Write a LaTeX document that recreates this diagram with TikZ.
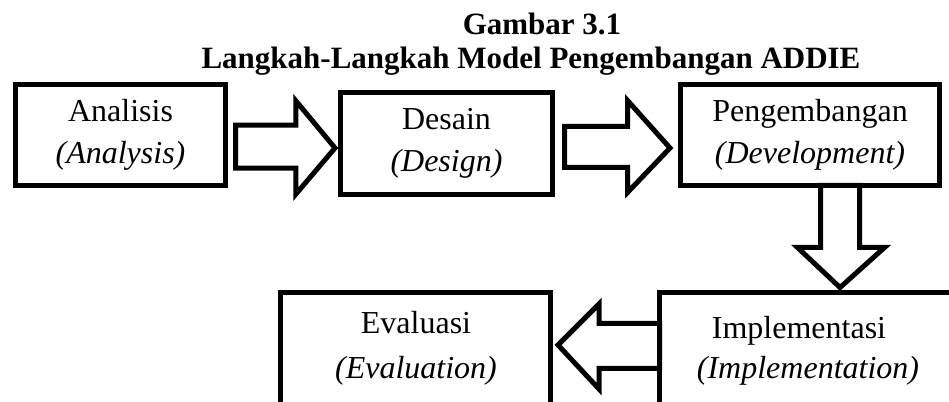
\documentclass[tikz,border=0pt]{standalone}
\usepackage{fontspec}
\setmainfont{Liberation Serif}
\usetikzlibrary{calc}
\begin{document}
\begin{tikzpicture}[x=1pt,y=1pt,
  box/.style={draw, line width=5pt, inner sep=0pt, outer sep=0pt, align=center,
    font=\fontsize{32}{42}\selectfont},
  lbl/.style={inner sep=0pt, font=\fontsize{32}{42}\selectfont},
  ttl/.style={inner sep=0pt, font=\bfseries\fontsize{31}{36}\selectfont},
  blockarrow/.style={draw, line width=5pt, line join=miter, miter limit=10, fill=white}]
\useasboundingbox (0,0) rectangle (949,401);
\clip (0,0) rectangle (949,401);

% title
\node[ttl, anchor=base] (t1) at (542,366) {Gambar 3.1};
\node[ttl, anchor=base] (t2) at (531,332) {Langkah-Langkah Model Pengembangan ADDIE};

% boxes
\node[box, minimum width=210pt, minimum height=101pt] (ana) at (120.5,266) {Analisis\\\textit{(Analysis)}};
\node[box, minimum width=212pt, minimum height=102pt] (des) at (446.5,257.5) {Desain\\\textit{(Design)}};
\node[box, minimum width=259pt, minimum height=101pt] (dev) at (810,266) {Pengembangan\\\textit{(Development)}};
\node[box, minimum width=340.5pt, minimum height=158.5pt] (imp) at (829.75,29.25) {};
\node[box, minimum width=270pt, minimum height=158.5pt] (eva) at (415.5,29.25) {};
\node[lbl, anchor=base] (impt1) at (799,62) {Implementasi};
\node[lbl, anchor=base] (impt2) at (808,23) {\textit{(Implementation)}};
\node[lbl, anchor=base] (evat1) at (416,67) {Evaluasi};
\node[lbl, anchor=base] (evat2) at (416,23) {\textit{(Evaluation)}};

% block arrows
\draw[blockarrow] let \p1=(ana.east), \p2=(des.west) in
  (\x1+10pt,275.8pt) -- (\x1+70.3pt,275.8pt) -- (\x1+70.3pt,300.2pt) --
  (\x2-5.5pt,253pt) -- (\x1+70.3pt,206.8pt) -- (\x1+70.3pt,232.8pt) --
  (\x1+10pt,232.8pt) -- cycle;
\draw[blockarrow] let \p1=(des.east), \p2=(dev.west) in
  (\x1+12pt,274.5pt) -- (\x1+75pt,274.5pt) -- (\x1+75pt,300.5pt) --
  (\x2-10.5pt,253pt) -- (\x1+75pt,208.5pt) -- (\x1+75pt,233.5pt) --
  (\x1+12pt,233.5pt) -- cycle;
\draw[blockarrow] let \p1=(dev.south), \p2=(imp.north) in
  (820.5pt,\y1) -- (820.5pt,153.5pt) -- (797.5pt,153.5pt) --
  (840pt,\y2+5pt) -- (884.5pt,153.5pt) -- (859.5pt,153.5pt) --
  (859.5pt,\y1) -- cycle;
\draw[blockarrow] let \p1=(imp.west), \p2=(eva.east) in
  (\x1,77.5pt) -- (599pt,77.5pt) -- (599pt,97pt) --
  (\x2+7.5pt,56pt) -- (599pt,12pt) -- (599pt,32.5pt) --
  (\x1,32.5pt) -- cycle;
\end{tikzpicture}
\end{document}
